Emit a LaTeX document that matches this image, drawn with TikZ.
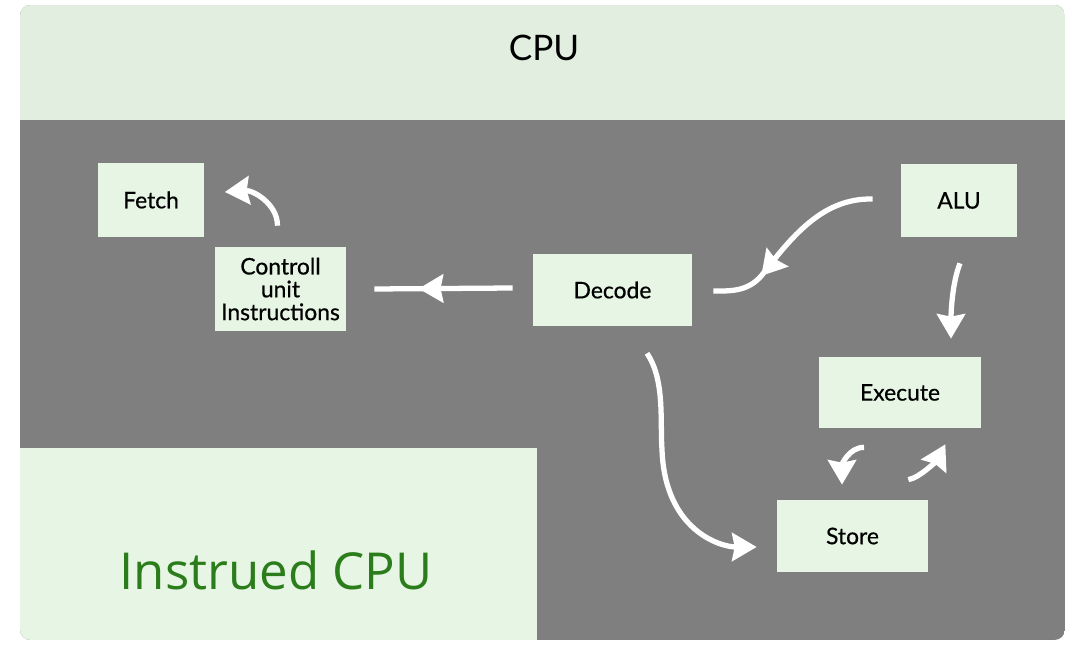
\documentclass[tikz,border=0pt]{standalone}
\usepackage{fontspec}
\setmainfont{Lato}
\newfontfamily\bigfont{Open Sans}
\newfontfamily\blockfont[FakeBold=0.6]{Lato}
\usepackage{tikz}
\usetikzlibrary{arrows.meta,decorations.markings,positioning}
\definecolor{panelgray}{RGB}{127,127,127}
\definecolor{bandgreen}{RGB}{226,238,224}
\definecolor{boxgreen}{RGB}{231,246,228}
\definecolor{labelgreen}{RGB}{42,125,26}
\tikzset{
    block/.style={
           rectangle,
           fill=boxgreen,
           minimum height=1.44cm,
           inner sep=2pt,
           align=center,
           font=\blockfont\fontsize{13}{13}\selectfont,
           },
    flow/.style={white, line width=3pt, -{Stealth[length=14pt,width=16pt,inset=1.5pt]}},
    midflow/.style={white, line width=3pt, postaction={decorate},
           decoration={markings, mark=at position #1 with {\arrow{Stealth[length=14pt,width=16pt,inset=1.5pt]}}}},
}

\begin{document}
\begin{tikzpicture}[x=0.02cm, y=-0.02cm]
        \fill[white] (0,0) rectangle (1072,645);
        \begin{scope}
            \clip[rounded corners=6pt] (20,5) rectangle (1065,640);
            \fill[panelgray] (20,5) rectangle (1065,640);
            \fill[bandgreen] (20,5) rectangle (1065,120);
            \fill[boxgreen] (20,448) rectangle (537,640);
        \end{scope}
        \node[font=\fontsize{20}{20}\selectfont] (cpu) at (544,48) {CPU};
        \node[font=\bigfont\fontsize{29}{29}\selectfont, text=labelgreen] (instrued) at (276,570) {Instrued CPU};

        \node[block, minimum width=2.14cm, minimum height=1.48cm] (fetch) at (151,200) {Fetch};
        \node[block, minimum width=2.62cm, minimum height=1.68cm] (ctrl) at (280.5,289) {Controll\\unit\\Instructions};
        \node[block, minimum width=3.18cm] (decode) at (612.5,290) {Decode};
        \node[block, minimum width=2.32cm, minimum height=1.46cm] (alu) at (959,200.5) {ALU};
        \node[block, minimum width=3.24cm, minimum height=1.42cm] (execute) at (900,392.5) {Execute};
        \node[block, minimum width=3.02cm] (store) at (852.5,536) {Store};

        \draw[flow] ([shift={(-3,-21)}]ctrl.north) .. controls +(0,-22) and +(28,-2) .. ([shift={(20,-8)}]fetch.east);
        \draw[midflow=0.68] ([shift={(-20,-2)}]decode.west) -- ([shift={(28,0)}]ctrl.east);
        \draw[midflow=0.73] ([shift={(-28,-1.5)}]alu.west) .. controls (825,198) and (795,232) .. (762,275)
            .. controls (748,292) and (730,291) .. ([shift={(21,1)}]decode.east);
        \draw[flow] ([shift={(1,26)}]alu.south) .. controls +(-8,20) and +(0,-25) .. ([shift={(51,-18)}]execute.north);
        \draw[flow] ([shift={(34.5,27)}]decode.south) .. controls (665,380) and (660,420) .. (662,450)
            .. controls (665,530) and (720,547) .. ([shift={(-20,11)}]store.west);
        \draw[flow] ([shift={(-36,19)}]execute.south) .. controls +(-15,0) and +(0,-20) .. ([shift={(-10.5,-15)}]store.north);
        \draw[flow] ([shift={(-20,-20)}]store.north east) .. controls +(12,-2) and +(-8,15) .. ([shift={(-36,16)}]execute.south east);
    \end{tikzpicture}
\end{document}
